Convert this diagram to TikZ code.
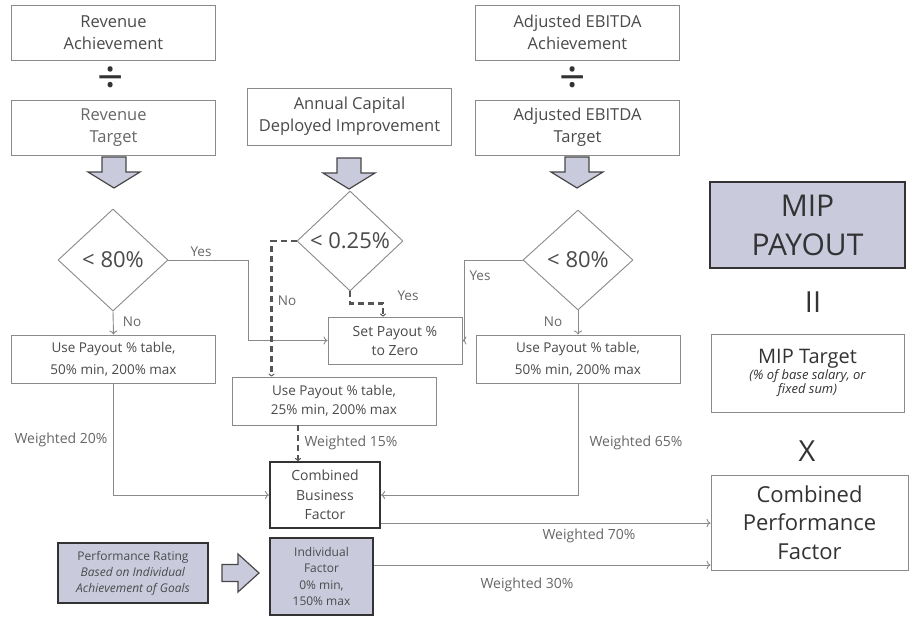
\documentclass[tikz,border=0pt]{standalone}
\usepackage{fontspec}
\setmainfont{Open Sans}
\usetikzlibrary{shapes.geometric,arrows.meta,calc}
\definecolor{lav}{HTML}{C9CBDD}
\definecolor{ln}{HTML}{8A8A8A}
\definecolor{tx}{HTML}{4A4A4A}
\definecolor{dk}{HTML}{333333}
\definecolor{lt}{HTML}{666666}
\definecolor{dsh}{HTML}{555555}
\begin{document}
\begin{tikzpicture}[x=1pt,y=-1pt,
  box/.style={draw=ln, line width=0.9pt, fill=white, text=tx, align=center, inner sep=0pt},
  topbox/.style={box, minimum width=204pt, minimum height=55pt, font=\fontsize{16.5}{22}\selectfont},
  paybox/.style={box, minimum width=204pt, minimum height=48pt, font=\fontsize{13.5}{22}\selectfont},
  dia/.style={diamond, draw=ln, line width=0.9pt, fill=white, text=tx, inner sep=0pt, font=\fontsize{22}{26}\selectfont},
  conn/.style={draw=ln, line width=0.9pt, -{To[length=4pt,width=8pt]}},
  dconn/.style={draw=dsh, line width=2.2pt, dash pattern=on 6pt off 4pt, -{To[length=3pt,width=6pt,line width=1pt]}},
  lbl/.style={text=lt, inner sep=0pt, font=\fontsize{13.5}{15}\selectfont},
  wlbl/.style={text=lt, inner sep=0pt, font=\fontsize{14}{17}\selectfont},
  sym/.style={text=dk, inner sep=0pt},
  blk/.style={draw=dk!90, line width=1.2pt, fill=lav, line join=miter},
  pics/blockdown/.style={code={\draw[blk] (-12,0) -- (12,0) -- (12,15) -- (26,15) -- (0,31) -- (-26,15) -- (-12,15) -- cycle;}},
  pics/blockright/.style={code={\draw[blk] (0,-8.5) -- (16,-8.5) -- (16,-19) -- (37,0) -- (16,19) -- (16,8.5) -- (0,8.5) -- cycle;}}
]
\useasboundingbox (0,0) rectangle (910,617);

% top boxes
\node[topbox] (ra) at (113.5,32.5) {Revenue\\Achievement};
\node[sym, font=\fontsize{46}{46}\selectfont] (dv1) at (111,80) {÷};
\node[topbox, text=lt] (rt) at (113.5,127.5) {Revenue\\Target};
\node[topbox, minimum height=57pt] (ac) at (349.5,116.5) {Annual Capital\\Deployed Improvement};
\node[topbox] (ea) at (577.5,32.5) {Adjusted EBITDA\\Achievement};
\node[sym, font=\fontsize{46}{46}\selectfont] (dv2) at (573,80) {÷};
\node[topbox] (et) at (577.5,127.5) {Adjusted EBITDA\\Target};

% block arrows
\pic at (114,157) {blockdown};
\pic at (349,158) {blockdown};
\pic at (577,157) {blockdown};

% diamonds
\node[dia, minimum width=110pt, minimum height=102pt] (d1) at (113,260) {< 80\%};
\node[dia, minimum width=106pt, minimum height=100pt] (d2) at (350,241) {< 0.25\%};
\node[dia, minimum width=110pt, minimum height=100pt] (d3) at (578,260) {< 80\%};

% payout boxes
\node[paybox] (u1) at (113.5,359) {Use Payout \% table,\\50\% min, 200\% max};
\node[box, minimum width=134pt, minimum height=47pt, font=\fontsize{14}{19}\selectfont] (z) at (395,340.5) {Set Payout \%\\to Zero};
\node[paybox] (u3) at (578,359) {Use Payout \% table,\\50\% min, 200\% max};
\node[paybox, font=\fontsize{13.5}{19}\selectfont] (u2) at (334,401) {Use Payout \% table,\\25\% min, 200\% max};

% combined business factor / individual
\node[box, draw=dk, line width=2pt, minimum width=110pt, minimum height=66pt, font=\fontsize{14}{19.5}\selectfont] (cbf) at (325,495) {Combined\\Business\\Factor};
\node[box, draw=dk, fill=lav, line width=1.5pt, minimum width=103pt, minimum height=77pt, font=\fontsize{12}{16.5}\selectfont] (ind) at (321.5,576.5) {Individual\\Factor\\0\% min,\\150\% max};
\node[box, draw=dk, fill=lav, line width=1.5pt, minimum width=150pt, minimum height=60pt, font=\fontsize{12}{16}\selectfont] (pr) at (133,573) {Performance Rating\\\textit{Based on Individual}\\\textit{Achievement of Goals}};
\pic at (222,573) {blockright};

% right column
\node[box, draw=dk, fill=lav, line width=2pt, text=dk, minimum width=195pt, minimum height=86pt, font=\fontsize{30}{39}\selectfont] (mip) at (807.5,225) {MIP\\PAYOUT};
\node[sym, font=\fontsize{29}{29}\selectfont] (eq) at (813,302) {II};
\node[box, text=dk, minimum width=193pt, minimum height=78pt] (mipt) at (807.5,373) {{\fontsize{20}{22}\selectfont MIP Target}\\[0pt]{\fontsize{13}{19}\selectfont\itshape (\% of base salary, or}\\{\fontsize{13}{19}\selectfont\itshape fixed sum)}};
\node[sym, font=\fontsize{29}{29}\selectfont] (xx) at (807,451) {X};
\node[box, text=dk, minimum width=197pt, minimum height=95pt, font=\fontsize{22}{28.5}\selectfont] (cpf) at (809.5,522.5) {Combined\\Performance\\Factor};

% connectors
\draw[conn] (d1.south) -- (u1.north);
\draw[conn] (d1.east) -- ++(80,0) |- (z.west);
\draw[conn] (d3.west) -- ++(-58,0) |- (z.east);
\draw[conn] (d3.south) -- (u3.north);
\coordinate (nx) at ($(u2.north west)+(40,0)$);
\draw[dconn] (d2.west) -| (nx);
\coordinate (yx) at ($(z.north)+(-12,0)$);
\draw[dconn] (d2.south) -- ++(0,12) -| (yx);
\draw[conn] (u1.south) |- (cbf.west);
\draw[conn] (u3.south) |- (cbf.east);
\coordinate (wx) at ($(cbf.north)+(-27,0)$);
\draw[dconn] (u2.south -| wx) -- (wx);
\coordinate (c1) at ([yshift=6pt]cbf.south east);
\draw[conn] (c1) -- (c1 -| cpf.west);
\coordinate (c2) at ([yshift=11.5pt]ind.east);
\draw[conn] (c2) -- (c2 -| cpf.west);

% labels
\node[lbl] (l1) at (201,252) {Yes};
\node[lbl] (l2) at (132,322) {No};
\node[lbl] (l3) at (480,276) {Yes};
\node[lbl] (l4) at (553,322) {No};
\node[lbl] (l5) at (287,301) {No};
\node[lbl] (l6) at (408,296) {Yes};
\node[wlbl] (w1) at (61,440) {Weighted 20\%};
\node[wlbl] (w2) at (351,443) {Weighted 15\%};
\node[wlbl] (w3) at (636,443) {Weighted 65\%};
\node[wlbl] (w4) at (589,536) {Weighted 70\%};
\node[wlbl] (w5) at (527,585) {Weighted 30\%};
\end{tikzpicture}
\end{document}
